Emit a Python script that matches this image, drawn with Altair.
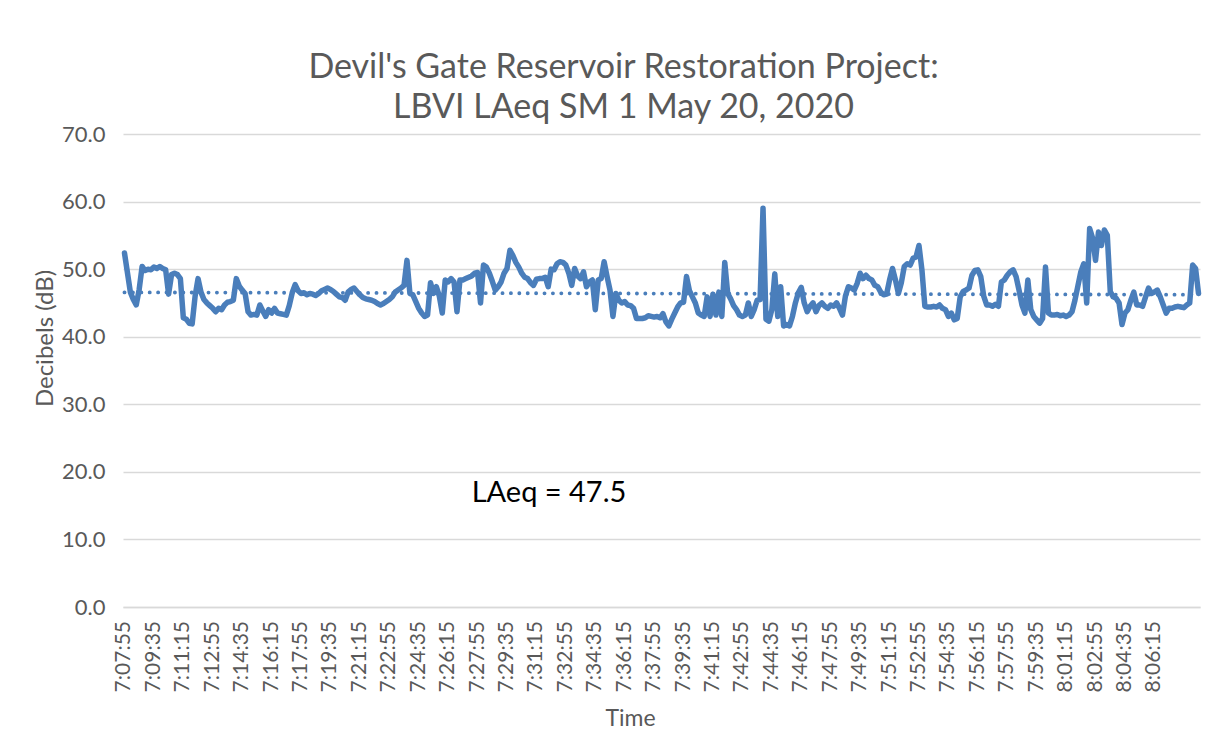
import json
import altair as alt
import pandas as pd

TITLE_LINES = ["Devil's Gate Reservoir Restoration Project:", "LBVI LAeq SM 1 May 20, 2020"]
Y_TITLE = "Decibels (dB)"
X_TITLE = "Time"

TICK_LABELS = [
    "7:07:55", "7:09:35", "7:11:15", "7:12:55", "7:14:35", "7:16:15", "7:17:55", "7:19:35",
    "7:21:15", "7:22:55", "7:24:35", "7:26:15", "7:27:55", "7:29:35", "7:31:15", "7:32:55",
    "7:34:35", "7:36:15", "7:37:55", "7:39:35", "7:41:15", "7:42:55", "7:44:35", "7:46:15",
    "7:47:55", "7:49:35", "7:51:15", "7:52:55", "7:54:35", "7:56:15", "7:57:55", "7:59:35",
    "8:01:15", "8:02:55", "8:04:35", "8:06:15",
]
SAMPLES_PER_LABEL = 10  # one reading every 10 s, one label every 100 s
Y_TICKS = [0, 10, 20, 30, 40, 50, 60, 70]

# LAeq readings (dB), one every 10 seconds from 7:07:55
DB_A = [
    52.4, 49.5, 46.6, 45.5, 44.7, 47.0, 50.4, 49.8, 50.0, 49.9,
    50.3, 50.1, 50.4, 50.1, 49.9, 46.3, 49.2, 49.4, 49.2, 48.6,
    42.8, 42.6, 42.0, 41.9, 46.0, 48.6, 46.6, 45.5, 45.0, 44.6,
    44.2, 43.7, 44.2, 44.0, 44.7, 45.1, 45.2, 45.4, 48.6, 47.5,
    46.9, 46.4, 43.7, 43.2, 43.3, 43.2, 44.7, 43.8, 43.0, 44.0,
    43.5, 44.2, 43.5, 43.4, 43.3, 43.2, 44.6, 46.5, 47.7, 46.8,
]
DB_B = [
    46.4, 46.5, 46.2, 46.4, 46.3, 46.1, 46.4, 46.8, 47.0, 47.2,
    47.0, 46.7, 46.3, 45.9, 45.8, 45.4, 46.6, 47.0, 47.2, 46.7,
    46.2, 45.8, 45.6, 45.5, 45.4, 45.2, 44.9, 44.7, 44.9, 45.2,
    45.5, 45.9, 46.6, 46.9, 47.2, 47.6, 51.3, 46.4, 46.2, 45.2,
    44.2, 43.5, 43.0, 43.2, 48.0, 46.4, 47.4, 46.0, 43.5, 48.4,
    48.1, 48.6, 48.1, 43.7, 48.4, 48.4, 48.6, 48.8, 49.0, 49.4,
]
DB_C = [
    49.5, 45.0, 50.6, 50.3, 49.4, 48.2, 46.9, 47.4, 48.1, 49.4,
    50.1, 52.8, 52.0, 51.0, 50.3, 49.4, 48.8, 48.6, 48.0, 47.6,
    48.5, 48.6, 48.6, 48.8, 47.4, 50.0, 49.9, 50.8, 51.1, 51.0,
    50.6, 49.4, 47.6, 50.1, 49.0, 48.6, 49.6, 47.4, 48.1, 48.4,
    44.0, 48.4, 48.6, 51.1, 48.9, 46.9, 43.0, 46.4, 45.4, 45.0,
    45.2, 44.7, 44.6, 44.2, 42.7, 42.7, 42.7, 42.8, 43.1, 43.0,
]
DB_D = [
    42.9, 43.0, 42.8, 43.4, 42.2, 41.6, 42.6, 43.5, 44.4, 45.0,
    45.1, 48.9, 46.8, 45.9, 45.0, 43.5, 43.2, 43.0, 45.9, 43.0,
    46.3, 43.2, 46.6, 43.0, 51.0, 46.4, 45.6, 44.6, 44.0, 43.2,
    43.0, 43.2, 45.0, 43.0, 44.0, 45.4, 45.5, 59.0, 42.6, 42.3,
    44.0, 49.3, 43.0, 47.4, 41.6, 41.8, 41.6, 43.0, 45.0, 46.5,
    47.3, 45.0, 43.7, 44.5, 45.0, 43.7, 44.6, 45.0, 44.5, 44.2,
]
DB_E = [
    44.7, 44.5, 45.0, 44.2, 43.2, 46.0, 47.4, 47.2, 46.9, 47.9,
    49.4, 48.6, 49.1, 48.6, 48.4, 47.6, 47.4, 46.6, 46.2, 46.3,
    48.4, 50.1, 48.4, 46.4, 48.0, 50.4, 50.8, 50.6, 51.6, 51.8,
    53.5, 49.9, 44.5, 44.4, 44.4, 44.5, 44.4, 44.7, 44.2, 44.0,
    43.0, 43.5, 42.5, 42.7, 45.9, 46.7, 46.9, 47.2, 49.1, 49.8,
    49.9, 48.9, 46.0, 44.7, 44.7, 44.5, 44.8, 44.5, 48.1, 48.4,
]
DB_F = [
    49.1, 49.6, 49.9, 48.9, 46.9, 44.7, 43.5, 48.4, 44.0, 43.0,
    42.5, 42.0, 42.7, 50.3, 43.5, 43.2, 43.2, 43.3, 43.1, 43.2,
    43.0, 43.2, 43.7, 45.4, 47.5, 49.6, 50.8, 45.0, 56.0, 54.6,
    51.3, 55.5, 53.5, 55.8, 55.0, 46.7, 45.9, 45.7, 45.0, 41.8,
    43.5, 44.0, 45.4, 46.6, 44.7, 44.7, 44.5, 45.9, 47.2, 46.4,
    46.6, 46.9, 45.9, 44.7, 43.5, 44.2, 44.2, 44.4, 44.5, 44.4,
    44.3, 44.7, 45.0, 50.6, 50.1, 46.4,
]

ANNOT_TEXT = ["LAeq = 47.5"]
ANNOT_X = [118]      # sample index where the note starts
ANNOT_Y = [16.9]     # dB

db = DB_A + DB_B + DB_C + DB_D + DB_E + DB_F
n = len(db)
df = pd.DataFrame({"i": list(range(n)), "db": db})
ann = pd.DataFrame({"ax": ANNOT_X, "ay": ANNOT_Y, "t": ANNOT_TEXT})
ticks_df = pd.DataFrame({
    "tk": [k * SAMPLES_PER_LABEL for k in range(len(TICK_LABELS))],
    "lab": TICK_LABELS,
})

FONT = "Lato"
TXT = "#595959"
GRID = "#d9d9d9"
BLUE = "#4a7ebb"
W, H = 1077, 473

x_scale = alt.Scale(domain=[-0.5, n - 0.5], nice=False, zero=False)
y_scale = alt.Scale(domain=[0, 70], nice=False)

x_axis = alt.Axis(
    values=list(ticks_df["tk"]), labels=False, ticks=False, grid=False,
    domain=True, domainColor=GRID, domainWidth=1.3,
    title=X_TITLE, titleFont=FONT, titleFontSize=23,
    titleFontWeight="normal", titleColor=TXT, titleX=507, titleY=111,
    titleBaseline="middle",
)
y_axis = alt.Axis(
    values=Y_TICKS, format=".1f", labelFont=FONT, labelFontSize=22, labelColor=TXT,
    labelPadding=18, ticks=False, domain=False, grid=True, gridColor=GRID,
    gridWidth=1.3, title=Y_TITLE, titleFont=FONT, titleFontSize=24,
    titleFontWeight="normal", titleColor=TXT, titleX=-78, titleY=204,
    titleBaseline="middle", titleAngle=270,
)

base = alt.Chart(df)
line = base.mark_line(color=BLUE, strokeWidth=5.5, strokeJoin="round", strokeCap="round").encode(
    x=alt.X("i:Q", scale=x_scale, axis=x_axis),
    y=alt.Y("db:Q", scale=y_scale, axis=y_axis),
)
trend = base.transform_regression("i", "db", method="linear", extent=[0, n - 1]).mark_line(
    color=BLUE, strokeWidth=3.8, strokeDash=[0.1, 8.3], strokeCap="round"
).encode(
    x=alt.X("i:Q", scale=x_scale),
    y=alt.Y("db:Q", scale=y_scale),
)
note = alt.Chart(ann).mark_text(
    align="left", baseline="middle", font=FONT, fontSize=29, color="#000000"
).encode(
    x=alt.X("ax:Q", scale=x_scale),
    y=alt.Y("ay:Q", scale=y_scale),
    text="t:N",
)
xlabels = alt.Chart(ticks_df).mark_text(
    angle=270, align="right", baseline="middle", font=FONT, fontSize=21,
    color=TXT, clip=False,
).encode(
    x=alt.X("tk:Q", scale=x_scale),
    y=alt.value(H + 14),
    text="lab:N",
)

chart = alt.layer(line, trend, note, xlabels).properties(
    width=W,
    height=H,
    autosize=alt.AutoSizeParams(type="none"),
    padding={"left": 115, "top": 126, "right": 16, "bottom": 128},
    background="white",
    title=alt.Title(
        TITLE_LINES, font=FONT, fontSize=34, color=TXT, fontWeight="normal",
        lineHeight=40, anchor="middle", dx=-38, offset=-2,
    ),
).configure_view(stroke=None)

chart.save("out.html", embed_options={"renderer": "svg", "actions": False})
